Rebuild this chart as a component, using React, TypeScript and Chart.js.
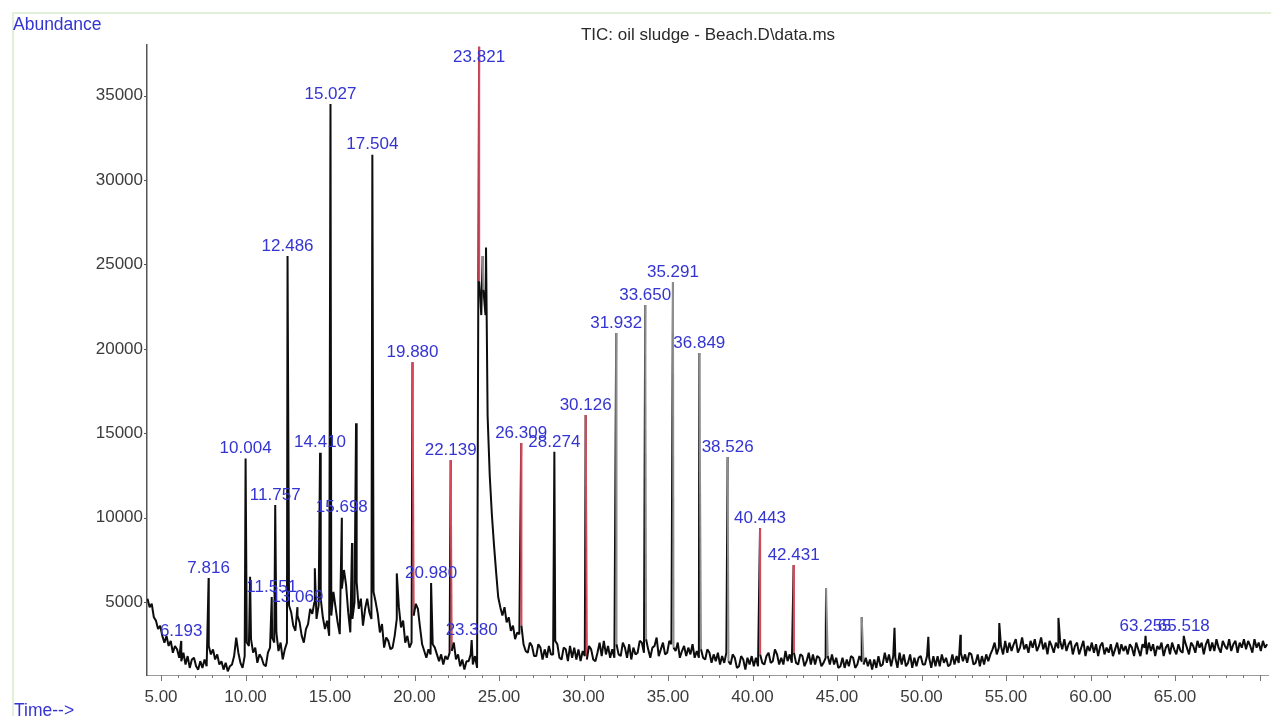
import { useEffect, useRef } from "react";
import { Chart, registerables } from "chart.js";

Chart.register(...registerables);

// ---- Text ----
const TITLE = "TIC: oil sludge - Beach.D\\data.ms";
const Y_TITLE = "Abundance";
const X_TITLE = "Time-->";

// ---- Axis ticks ----
const xTickLabels = [5, 10, 15, 20, 25, 30, 35, 40, 45, 50, 55, 60, 65];
const yTickLabels = [5000, 10000, 15000, 20000, 25000, 30000, 35000];

// ---- Detector trace (TIC), one scan every 0.125 min starting at 4.200 min ----
// each row holds the eight scans that start at m.200 (m.200 ... m+1.075)
const SCAN_START = 4.2;
const SCAN_STEP = 0.125;
const scanRows: number[][] = [
  [5200, 4700, 4900, 4100, 3900, 3400, 3600, 3000], // 4
  [2600, 3000, 2400, 2700, 2000, 2400, 2200, 1700], // 5
  [1500, 2000, 1300, 1800, 1100, 1600, 1700, 1200], // 6
  [1000, 1500, 1100, 1600, 1200, 2400, 1900, 2200], // 7
  [1600, 1900, 1300, 1500, 1000, 1400, 900, 1200], // 8
  [1300, 1800, 2900, 2000, 1400, 1100, 1800, 2600], // 9
  [2400, 2800, 2000, 2300, 1400, 1900, 1700, 1300], // 10
  [1200, 2000, 2300, 2900, 2600, 3200, 2100, 2600], // 11
  [1600, 2200, 2600, 4800, 4400, 3600, 3300, 4200], // 12
  [3800, 3000, 2600, 3400, 3700, 4600, 4300, 5000], // 13
  [4000, 4800, 5200, 4100, 3400, 3900, 3000, 4200], // 14
  [5600, 4700, 3800, 3100, 5800, 6900, 6000, 4400], // 15
  [3200, 4000, 5000, 6200, 4600, 5200, 3600, 4600], // 16
  [5200, 4400, 4000, 5600, 5000, 4300, 3200, 3700], // 17
  [2300, 2900, 2700, 2200, 2300, 3000, 4000, 4700], // 18
  [3500, 3900, 2600, 3000, 2300, 2600, 4200, 4900], // 19
  [4600, 3500, 2500, 2100, 1700, 2200, 1900, 2500], // 20
  [2300, 1900, 1500, 1900, 1300, 1800, 1600, 2000], // 21
  [2100, 2600, 1600, 1900, 1200, 1600, 1000, 1500], // 22
  [1500, 1900, 1300, 1800, 1100, 24000, 22000, 23500], // 23
  [22000, 16000, 12500, 10200, 8400, 6800, 5300, 4700], // 24
  [4200, 4700, 3800, 4100, 3300, 3600, 2800, 3200], // 25
  [3100, 3600, 2500, 2100, 2000, 2600, 2400, 1800], // 26
  [1800, 2500, 2300, 1600, 2200, 1700, 2400, 1900], // 27
  [1900, 2700, 2500, 1700, 1600, 2300, 2200, 1500], // 28
  [2400, 1700, 2300, 1600, 2200, 1500, 2100, 1800], // 29
  [1600, 2400, 2200, 1600, 1500, 2000, 2600, 1800], // 30
  [2700, 1900, 2400, 1700, 2200, 1700, 2500, 1900], // 31
  [1800, 2600, 2300, 1700, 2500, 1600, 2300, 1900], // 32
  [2000, 2700, 2600, 2000, 2800, 2200, 1700, 2300], // 33
  [2400, 2900, 1800, 2200, 2600, 1900, 2000, 2700], // 34
  [2500, 2300, 2100, 2600, 1700, 2100, 2400, 1800], // 35
  [2300, 1900, 2500, 1700, 2100, 1700, 2200, 1700], // 36
  [1600, 2200, 2000, 1400, 1900, 1500, 2000, 1300], // 37
  [1800, 1400, 2000, 1500, 1300, 1900, 1700, 1100], // 38
  [1200, 1800, 1600, 1000, 1700, 1300, 1800, 1200], // 39
  [1700, 1200, 1900, 1400, 1300, 1800, 2000, 1400], // 40
  [1500, 2200, 1900, 1300, 1700, 1300, 2100, 1500], // 41
  [1900, 1400, 2000, 1400, 1300, 1900, 1800, 1200], // 42
  [1500, 2000, 1300, 1900, 1300, 1800, 1700, 1200], // 43
  [1400, 1700, 1800, 1300, 1900, 1300, 1700, 1100], // 44
  [1200, 1700, 1100, 1600, 1200, 1800, 1700, 1100], // 45
  [1300, 1800, 1500, 1300, 1700, 1200, 1600, 1000], // 46
  [1600, 1100, 1800, 1200, 1300, 2000, 1400, 1900], // 47
  [1200, 1800, 1700, 1100, 2000, 1300, 1900, 1200], // 48
  [1400, 1900, 1100, 1700, 1200, 1700, 1800, 1300], // 49
  [1300, 1800, 1700, 1100, 1800, 1200, 1800, 1200], // 50
  [1900, 1400, 1700, 1200, 1300, 1900, 1300, 1800], // 51
  [1400, 2000, 1500, 1900, 1400, 2000, 1900, 1300], // 52
  [1400, 1900, 1200, 1800, 1300, 1900, 1500, 1900], // 53
  [2200, 2600, 1900, 2300, 2400, 1900, 2700, 2000], // 54
  [2600, 2100, 2500, 2800, 2000, 2300, 2900, 2200], // 55
  [2500, 2000, 2700, 2300, 2800, 2100, 2400, 2900], // 56
  [2200, 2600, 1900, 2700, 2400, 2000, 2600, 2300], // 57
  [2700, 2200, 2800, 2100, 2500, 2700, 1900, 2400], // 58
  [2600, 1900, 2300, 2700, 1800, 2400, 2100, 2600], // 59
  [2000, 2500, 1800, 2400, 2600, 1900, 2300, 2000], // 60
  [2500, 1800, 2200, 2600, 1900, 2500, 2100, 2400], // 61
  [1900, 2500, 2300, 1800, 2600, 2200, 1800, 2500], // 62
  [2300, 1900, 2600, 2100, 2500, 1800, 2400, 2200], // 63
  [2600, 1800, 2300, 2500, 1900, 2600, 2200, 1900], // 64
  [2500, 2100, 2000, 2700, 2300, 1900, 2600, 2400], // 65
  [2000, 2700, 2300, 2600, 1900, 2500, 2800, 2100], // 66
  [2600, 2100, 2800, 2300, 2000, 2700, 2400, 2200], // 67
  [2800, 2100, 2500, 2700, 2000, 2600, 2300, 2800], // 68
  [2200, 2700, 2400, 2000, 2800, 2300, 2600, 2100], // 69
  [2700, 2300, 2500], // 70
];

// ---- Integrated (labelled) peaks: retention time (min) and apex abundance ----
const peakTimes = [
  6.193, 7.816, 10.004, 11.551, 11.757, 12.486, 13.069, 14.41, 15.027, 15.698,
  17.504, 19.88, 20.98, 22.139, 23.38, 23.821, 26.309, 28.274, 30.126, 31.932,
  33.65, 35.291, 36.849, 38.526, 40.443, 42.431, 63.255, 65.518,
];
const peakHeights = [
  2700, 6420, 13500, 5300, 10750, 25500, 4700, 13850, 34500, 10000,
  31500, 19200, 6130, 13400, 2750, 37900, 14430, 13900, 16080, 20940,
  22600, 23960, 19750, 13590, 9380, 7190, 3000, 3000,
];

// ---- Unlabelled peaks ----
const minorPeakTimes = [10.27, 14.1, 16.3, 16.54, 18.95, 24.03, 24.23, 44.35, 46.46, 48.4, 50.4, 52.3, 54.6, 58.1];
const minorPeakHeights = [6500, 7000, 8500, 15600, 6700, 25500, 26000, 5800, 4100, 3470, 2940, 3060, 3760, 4060];

// peaks whose trailing edge is drawn in the integration colours
const redEdgePeaks = [19.88, 22.139, 23.821, 26.309, 30.126, 40.443, 42.431];
const grayEdgePeaks = [24.03, 31.932, 33.65, 35.291, 36.849, 38.526, 44.35, 46.46];

const FONT = '"Liberation Sans", Arial, sans-serif';
const LABEL_BLUE = "#3434d2";
const AXIS_TEXT = "#3c3c3c";

const scanPoints = scanRows.flat().map((y, i) => ({ x: +(SCAN_START + SCAN_STEP * i).toFixed(3), y }));
const apexPoints = [
  ...peakTimes.map((x, i) => ({ x, y: peakHeights[i] })),
  ...minorPeakTimes.map((x, i) => ({ x, y: minorPeakHeights[i] })),
];
const trace = [...scanPoints, ...apexPoints].sort((a, b) => a.x - b.x);

const decorPlugin = {
  id: "decor",
  beforeDraw(chart: any) {
    const { ctx, width, height } = chart;
    ctx.save();
    ctx.fillStyle = "#ffffff";
    ctx.fillRect(0, 0, width, height);
    ctx.strokeStyle = "#e2f0d8";
    ctx.lineWidth = 2;
    ctx.beginPath();
    ctx.moveTo(13, height);
    ctx.lineTo(13, 13);
    ctx.lineTo(width, 13);
    ctx.stroke();
    ctx.restore();
  },
  afterDraw(chart: any) {
    const { ctx, chartArea: a, scales } = chart;
    const xs = scales.x;
    const ys = scales.y;
    ctx.save();

    // time axis tick marks: one per minute, longer every five
    ctx.strokeStyle = "#777";
    ctx.lineWidth = 1;
    for (let m = 5; m <= 70; m++) {
      const px = Math.round(xs.getPixelForValue(m)) + 0.5;
      const len = m % 5 === 0 ? 6 : 3;
      ctx.beginPath();
      ctx.moveTo(px, a.bottom);
      ctx.lineTo(px, a.bottom + len);
      ctx.stroke();
    }
    // abundance tick marks
    ctx.strokeStyle = "#555";
    for (const v of yTickLabels) {
      const py = Math.round(ys.getPixelForValue(v)) + 0.5;
      ctx.beginPath();
      ctx.moveTo(a.left - 3, py);
      ctx.lineTo(a.left, py);
      ctx.stroke();
    }

    // headings
    ctx.textBaseline = "middle";
    ctx.font = `17px ${FONT}`;
    ctx.fillStyle = "#2a2a2a";
    ctx.textAlign = "center";
    ctx.fillText(TITLE, 708, 35);
    ctx.textAlign = "left";
    ctx.fillStyle = LABEL_BLUE;
    ctx.font = `17.5px ${FONT}`;
    ctx.fillText(Y_TITLE, 13, 25);
    ctx.fillText(X_TITLE, 14, 711);

    // retention-time labels above each integrated peak
    ctx.font = `17px ${FONT}`;
    ctx.textAlign = "center";
    ctx.fillStyle = LABEL_BLUE;
    peakTimes.forEach((t, i) => {
      const px = xs.getPixelForValue(t);
      const py = Math.max(ys.getPixelForValue(peakHeights[i]) - 10, a.top + 12);
      ctx.fillText(t.toFixed(3), px, py);
    });
    ctx.restore();
  },
};

export default function App() {
  const canvasRef = useRef<HTMLCanvasElement>(null);

  useEffect(() => {
    document.body.style.margin = "0";
    const chart = new Chart(canvasRef.current!, {
      type: "line",
      data: {
        datasets: [
          {
            data: trace,
            borderColor: "#0d0d0d",
            borderWidth: 2,
            borderJoinStyle: "bevel",
            pointRadius: 0,
            tension: 0,
            segment: {
              borderColor: (c: any) => {
                const x0 = c.p0.parsed.x;
                if (redEdgePeaks.includes(x0)) return "#d9485a";
                if (grayEdgePeaks.includes(x0)) return "#8e8e8e";
                return undefined;
              },
            },
          },
        ],
      },
      options: {
        animation: false,
        responsive: true,
        maintainAspectRatio: false,
        devicePixelRatio: 1,
        layout: { padding: { top: 45, right: 3, left: 0, bottom: 0 } },
        plugins: { legend: { display: false }, tooltip: { enabled: false }, title: { display: false } },
        events: [],
        scales: {
          x: {
            type: "linear",
            min: 4.17,
            max: 70.5,
            grid: { display: false, drawTicks: false },
            border: { display: true, color: "#9a9a9a", width: 1 },
            afterBuildTicks: (s: any) => {
              s.ticks = xTickLabels.map((value) => ({ value }));
            },
            afterFit: (s: any) => {
              s.height = 41;
            },
            ticks: {
              autoSkip: false,
              maxRotation: 0,
              padding: 12,
              color: AXIS_TEXT,
              font: { family: FONT, size: 17 },
              callback: (v: any) => Number(v).toFixed(2),
            },
          },
          y: {
            type: "linear",
            min: 680,
            max: 38000,
            grid: { display: false, drawTicks: false },
            border: { display: true, color: "#555555", width: 1.5 },
            afterBuildTicks: (s: any) => {
              s.ticks = yTickLabels.map((value) => ({ value }));
            },
            afterFit: (s: any) => {
              s.width = 147;
            },
            ticks: {
              autoSkip: false,
              padding: 4,
              color: AXIS_TEXT,
              font: { family: FONT, size: 17 },
              callback: (v: any) => String(v),
            },
          },
        },
      },
      plugins: [decorPlugin],
    });
    return () => chart.destroy();
  }, []);

  return (
    <div style={{ position: "relative", width: 1271, height: 716 }}>
      <canvas ref={canvasRef} />
    </div>
  );
}
